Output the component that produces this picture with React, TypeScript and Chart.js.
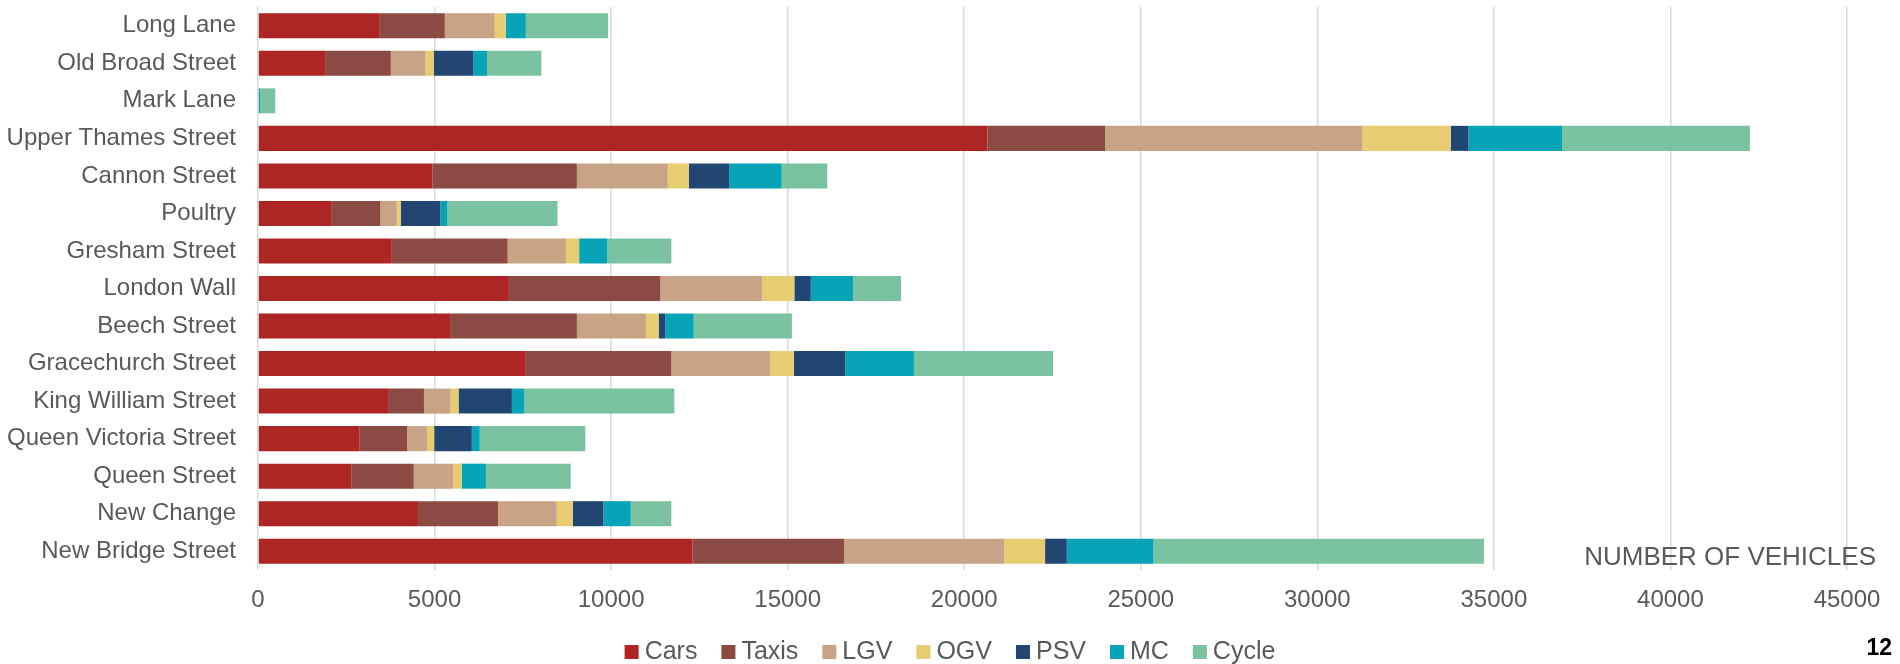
import React, { useEffect, useRef } from "react";
import { Chart, registerables } from "chart.js";

Chart.register(...registerables);

const categories = [
  "Long Lane",
  "Old Broad Street",
  "Mark Lane",
  "Upper Thames Street",
  "Cannon Street",
  "Poultry",
  "Gresham Street",
  "London Wall",
  "Beech Street",
  "Gracechurch Street",
  "King William Street",
  "Queen Victoria Street",
  "Queen Street",
  "New Change",
  "New Bridge Street",
];

const cars = [3450, 1920, 0, 20660, 4940, 2090, 3790, 7105, 5440, 7585, 3705, 2880, 2640, 4530, 12305];
const taxis = [1840, 1840, 0, 3330, 4090, 1375, 3280, 4290, 3590, 4120, 995, 1340, 1770, 2265, 4290];
const lgv = [1415, 985, 0, 7275, 2575, 465, 1650, 2885, 1955, 2800, 755, 565, 1115, 1665, 4540];
const ogv = [310, 235, 0, 2515, 600, 120, 375, 910, 360, 670, 225, 205, 240, 460, 1155];
const psv = [0, 1115, 0, 500, 1135, 1115, 0, 465, 190, 1460, 1510, 1065, 0, 860, 615];
const mc = [570, 390, 60, 2655, 1490, 190, 790, 1200, 805, 1940, 345, 225, 690, 775, 2455];
const cycle = [2330, 1540, 430, 5315, 1290, 3125, 1820, 1355, 2780, 3940, 4255, 2990, 2400, 1150, 9360];

const seriesNames = ["Cars", "Taxis", "LGV", "OGV", "PSV", "MC", "Cycle"];
const seriesValues = [cars, taxis, lgv, ogv, psv, mc, cycle];
const seriesColors = ["#AD2623", "#8B4A43", "#C8A386", "#E8CC71", "#214671", "#06A4B6", "#7BC2A2"];

const xMin = 0;
const xMax = 45000;
const xStep = 5000;
const axisTitle = "NUMBER OF VEHICLES";
const pageNumber = "12";

const FONT = '"Liberation Sans", Arial, Helvetica, sans-serif';
const TEXT_COLOR = "#595959";

const overlayPlugin = {
  id: "overlay",
  afterDraw(chart: any) {
    const ctx = chart.ctx as CanvasRenderingContext2D;
    ctx.save();
    // axis title
    ctx.font = `26px ${FONT}`;
    ctx.fillStyle = TEXT_COLOR;
    ctx.textAlign = "right";
    ctx.textBaseline = "middle";
    ctx.fillText(axisTitle, 1876, 558);

    // legend
    ctx.font = `25px ${FONT}`;
    const box = 14;
    const gapBoxText = 6;
    const gapItems = 24;
    const widths = seriesNames.map((n) => ctx.measureText(n).width);
    const total =
      widths.reduce((a, b) => a + b, 0) +
      seriesNames.length * (box + gapBoxText) +
      (seriesNames.length - 1) * gapItems;
    let x = 950 - total / 2;
    const cy = 652;
    ctx.textAlign = "left";
    seriesNames.forEach((name, i) => {
      ctx.fillStyle = seriesColors[i];
      ctx.fillRect(x, cy - box / 2, box, box);
      x += box + gapBoxText;
      ctx.fillStyle = TEXT_COLOR;
      ctx.fillText(name, x, cy);
      x += widths[i] + gapItems;
    });

    // page number
    ctx.font = `bold 23px ${FONT}`;
    ctx.fillStyle = "#000000";
    ctx.textAlign = "right";
    ctx.fillText(pageNumber, 1892, 649);
    ctx.restore();
  },
};

export default function App() {
  const canvasRef = useRef<HTMLCanvasElement | null>(null);

  useEffect(() => {
    const canvas = canvasRef.current;
    if (!canvas) return;
    const chart = new Chart(canvas, {
      type: "bar",
      data: {
        labels: categories,
        datasets: seriesNames.map((name, i) => ({
          label: name,
          data: seriesValues[i],
          backgroundColor: seriesColors[i],
          borderWidth: 0,
          categoryPercentage: 1,
          barPercentage: 0.667,
        })),
      },
      options: {
        indexAxis: "y",
        animation: false,
        responsive: false,
        maintainAspectRatio: false,
        layout: { padding: { left: 0, right: 53, top: 7, bottom: 0 } },
        plugins: {
          legend: { display: false },
          tooltip: { enabled: false },
          title: { display: false },
        },
        scales: {
          x: {
            stacked: true,
            min: xMin,
            max: xMax,
            ticks: {
              stepSize: xStep,
              padding: 16,
              color: TEXT_COLOR,
              font: { family: FONT, size: 24 },
              maxRotation: 0,
              autoSkip: false,
              callback: (v: any) => String(v),
            },
            grid: { color: "#D9D9D9", lineWidth: 1.5, drawTicks: false },
            border: { display: false },
            afterFit: (s: any) => {
              s.height = 94;
            },
          },
          y: {
            stacked: true,
            ticks: {
              padding: 22,
              color: TEXT_COLOR,
              font: { family: FONT, size: 24 },
              autoSkip: false,
            },
            grid: { display: false, drawTicks: false },
            border: { display: false },
            afterFit: (s: any) => {
              s.width = 258;
              s.paddingTop = 0;
              s.paddingBottom = 0;
            },
          },
        },
      },
      plugins: [overlayPlugin],
    } as any);
    return () => chart.destroy();
  }, []);

  return (
    <div style={{ position: "absolute", left: 0, top: 0, width: 1900, height: 664, background: "#fff" }}>
      <canvas ref={canvasRef} width={1900} height={664} style={{ display: "block", width: 1900, height: 664 }} />
    </div>
  );
}
